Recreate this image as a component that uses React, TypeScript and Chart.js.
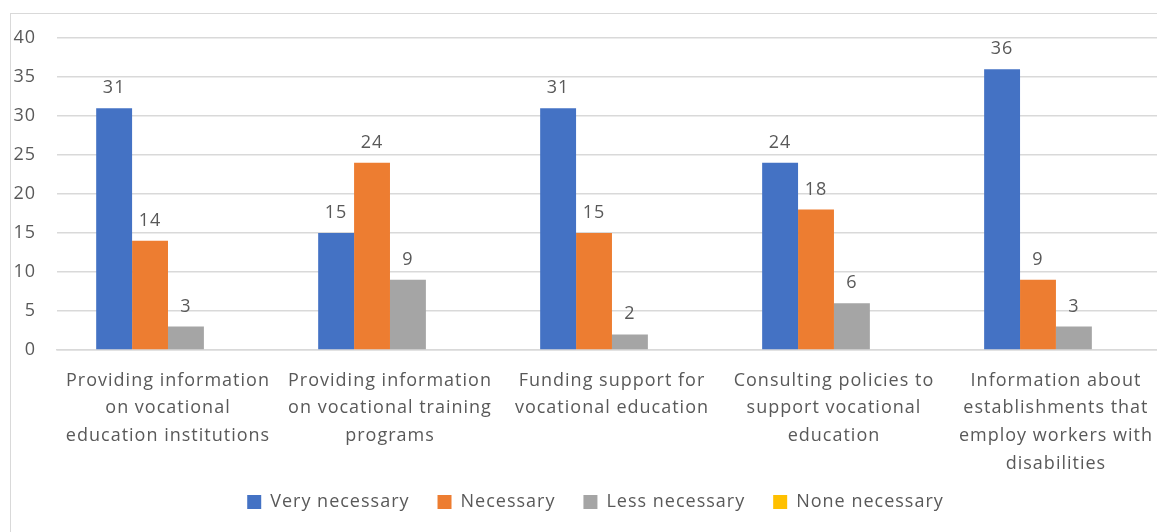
import React, { useEffect, useRef } from "react";
import { Chart, registerables } from "chart.js";

Chart.register(...registerables);

const categories: string[][] = [
  ["Providing information", "on vocational", "education institutions"],
  ["Providing information", "on vocational training", "programs"],
  ["Funding support for", "vocational education"],
  ["Consulting policies to", "support vocational", "education"],
  ["Information about", "establishments that", "employ workers with", "disabilities"],
];

const veryNecessary = [31, 15, 31, 24, 36];
const necessary = [14, 24, 15, 18, 9];
const lessNecessary = [3, 9, 2, 6, 3];
const noneNecessary = [0, 0, 0, 0, 0];

const seriesNames = ["Very necessary", "Necessary", "Less necessary", "None necessary"];
const seriesColors = ["#4472C4", "#ED7D31", "#A5A5A5", "#FFC000"];

const yTicks = { min: 0, max: 40, step: 5 };

const FONT = "'Open Sans', sans-serif";
const TEXT = "#595959";
const GRID = "#d9d9d9";

const spacing = {
  id: "spacing",
  beforeLayout(chart: any) {
    chart.ctx.letterSpacing = "1px";
  },
  beforeDraw(chart: any) {
    chart.ctx.letterSpacing = "1px";
  },
};

const valueLabels = {
  id: "valueLabels",
  afterDatasetsDraw(chart: any) {
    const ctx = chart.ctx;
    ctx.save();
    ctx.fillStyle = TEXT;
    ctx.font = `18px ${FONT}`;
    ctx.textAlign = "center";
    ctx.textBaseline = "alphabetic";
    chart.data.datasets.forEach((ds: any, di: number) => {
      const meta = chart.getDatasetMeta(di);
      meta.data.forEach((el: any, i: number) => {
        const v = ds.data[i];
        if (!v) return;
        ctx.fillText(String(v), el.x, el.y - 15);
      });
    });
    ctx.restore();
  },
};

export default function App() {
  const ref = useRef<HTMLCanvasElement | null>(null);
  useEffect(() => {
    if (!ref.current) return;
    const data = [veryNecessary, necessary, lessNecessary, noneNecessary];
    const chart = new Chart(ref.current, {
      type: "bar",
      data: {
        labels: categories,
        datasets: data.map((d, i) => ({
          label: seriesNames[i],
          data: d,
          backgroundColor: seriesColors[i],
          borderWidth: 0,
          categoryPercentage: 0.647,
          barPercentage: 1,
        })),
      },
      options: {
        animation: false,
        responsive: true,
        maintainAspectRatio: false,
        layout: { padding: { top: 24, right: 0, bottom: 11, left: 10 } },
        plugins: {
          legend: {
            position: "bottom",
            labels: {
              boxWidth: 14,
              boxHeight: 14,
              padding: 28,
              color: TEXT,
              font: { family: FONT, size: 18 },
            },
          },
          tooltip: { enabled: false },
        },
        scales: {
          x: {
            grid: { display: false, drawTicks: false },
            border: { display: true, color: GRID, width: 1.5 },
            ticks: {
              color: TEXT,
              padding: 17,
              maxRotation: 0,
              autoSkip: false,
              font: { family: FONT, size: 18, lineHeight: 1.53 },
            },
            afterFit(scale: any) {
              scale.height = 115;
              // let the multi-line category labels extend past the axis box
              scale._computeLabelArea = () => undefined;
            },
          },
          y: {
            min: yTicks.min,
            max: yTicks.max,
            ticks: {
              stepSize: yTicks.step,
              color: TEXT,
              padding: 21,
              font: { family: FONT, size: 18 },
            },
            grid: { color: GRID, lineWidth: 1.5, drawTicks: false },
            border: { display: false },
            afterFit(scale: any) {
              scale.width = 36;
              scale.paddingTop = 0;
              scale.paddingBottom = 0;
              scale._computeLabelArea = () => undefined;
            },
          },
        },
      },
      plugins: [spacing, valueLabels],
    });
    return () => chart.destroy();
  }, []);

  return (
    <div style={{ position: "fixed", inset: 0, overflow: "hidden", background: "#fff" }}>
      <div
        style={{
          position: "absolute",
          left: 10,
          top: 13,
          width: 1169,
          height: 540,
          border: `1px solid ${GRID}`,
        }}
      >
        <div style={{ position: "relative", width: 1159, height: 518 }}>
          <canvas ref={ref} />
        </div>
      </div>
    </div>
  );
}
